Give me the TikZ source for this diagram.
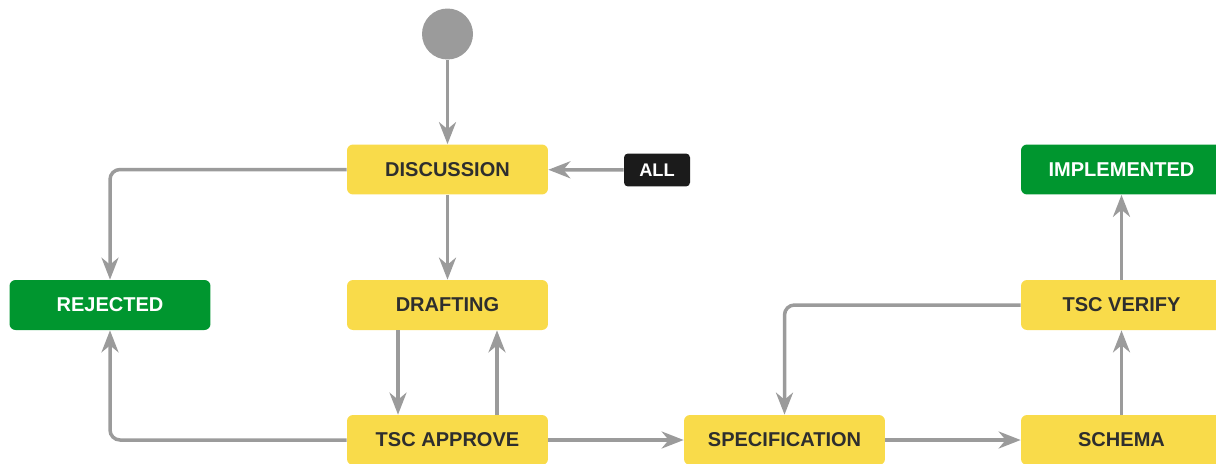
\documentclass[tikz,border=0pt]{standalone}
\usepackage{fontspec}
\setmainfont{Liberation Sans}
\usetikzlibrary{arrows.meta}

\definecolor{stateyellow}{HTML}{F9DB4A}
\definecolor{stategreen}{HTML}{00962F}
\definecolor{linegray}{HTML}{9B9B9B}
\definecolor{textdark}{HTML}{2E2E2E}
\definecolor{allblack}{HTML}{1B1B1B}

\begin{document}
\begin{tikzpicture}[x=0.02cm, y=-0.02cm,
    >={Stealth[length=0.44cm, width=0.34cm, inset=0.14cm]},
    state/.style={rectangle, rounded corners=0.12cm, fill=stateyellow,
        text=textdark, minimum width=4.02cm, minimum height=1cm,
        font=\bfseries\fontsize{11.4}{13}\selectfont},
    done/.style={state, fill=stategreen, text=white},
    anystate/.style={rectangle, rounded corners=0.08cm, fill=allblack,
        text=white, minimum width=1.32cm, minimum height=0.66cm,
        font=\bfseries\fontsize{10.4}{12}\selectfont},
    flow/.style={->, linegray, line width=0.07cm, rounded corners=0.2cm}]
    \useasboundingbox (0,0) rectangle (1216,463);
    \clip (0,0) rectangle (1216,463);

    \node[circle, fill=linegray, minimum size=1.02cm, inner sep=0pt] (start) at (447.5,34) {};

    \node[state] (disc) at (447.5,169.5) {DISCUSSION};
    \node[anystate] (all) at (657,170) {ALL};
    \node[done] (rej) at (110,305) {REJECTED};
    \node[state] (draft) at (447.5,305) {DRAFTING};
    \node[state] (approve) at (447.5,440) {TSC APPROVE};
    \node[state] (spec) at (784.5,440) {SPECIFICATION};
    \node[state] (schema) at (1121.5,440) {SCHEMA};
    \node[state] (verify) at (1121.5,305) {TSC VERIFY};
    \node[done] (impl) at (1121.5,169.5) {IMPLEMENTED};

    \draw[flow] (start) -- (disc);
    \draw[flow] (all) -- (disc);
    \draw[flow] (disc) -- (draft);
    \draw[flow] ([xshift=-0.99cm]draft.south) -- ([xshift=-0.99cm]approve.north);
    \draw[flow] ([xshift=0.99cm]approve.north) -- ([xshift=0.99cm]draft.south);
    \draw[flow] (approve) -- (spec);
    \draw[flow] (spec) -- (schema);
    \draw[flow] (schema) -- (verify);
    \draw[flow] (verify) -- (impl);
    \draw[flow] (verify.west) -| (spec.north);
    \draw[flow] (disc.west) -| (rej.north);
    \draw[flow] (approve.west) -| (rej.south);
\end{tikzpicture}
\end{document}
